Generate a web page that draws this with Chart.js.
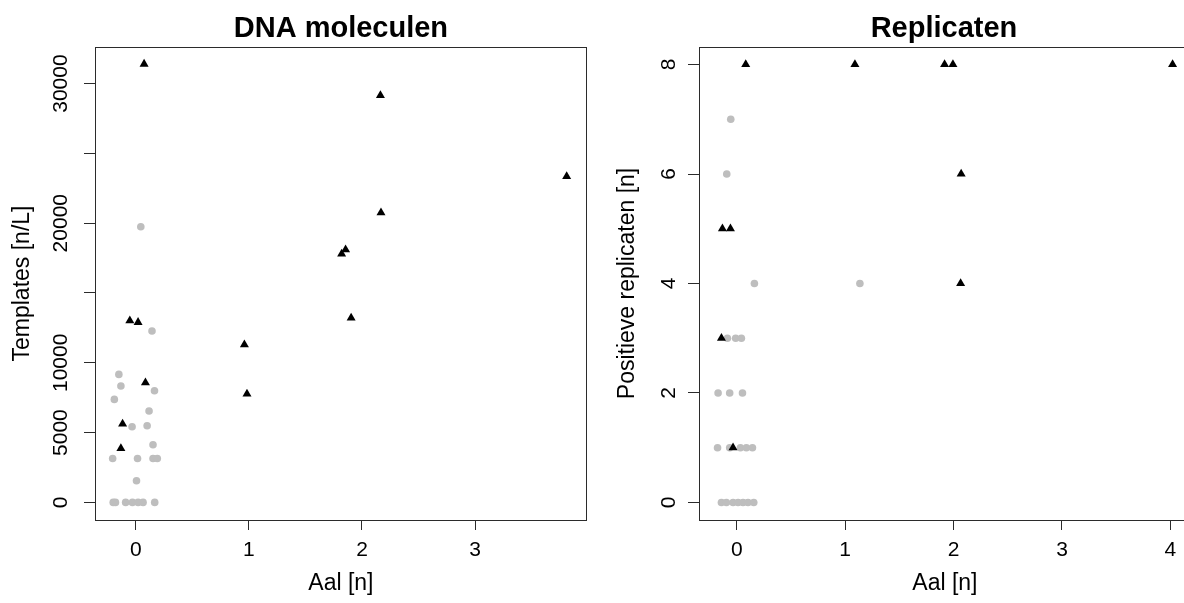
<!DOCTYPE html>
<html><head><meta charset="utf-8">
<script src="https://cdn.jsdelivr.net/npm/chart.js@4.4.1/dist/chart.umd.min.js"></script>
<style>
html,body{margin:0;padding:0;background:#fff;}
#wrap{position:relative;width:1184px;height:603px;overflow:hidden;}
canvas{position:absolute;top:0;}
</style></head><body>
<div id="wrap">
<canvas id="c1" width="592" height="603" style="left:0"></canvas>
<canvas id="c2" width="604" height="603" style="left:592px"></canvas>
</div>
<script>
// ---------- data ----------
const leftTitle = 'DNA moleculen';
const rightTitle = 'Replicaten';
const xTitle = 'Aal [n]';
const leftYTitle = 'Templates [n/L]';
const rightYTitle = 'Positieve replicaten [n]';

const leftXTicks = [0, 1, 2, 3];
const leftYTicks = [0, 5000, 10000, 15000, 20000, 25000, 30000];
const leftYLabels = ['0', '5000', '10000', '', '20000', '', '30000'];
const rightXTicks = [0, 1, 2, 3, 4];
const rightYTicks = [0, 2, 4, 6, 8];
const rightYLabels = ['0', '2', '4', '6', '8'];

const leftBlackX = [0.073, 2.163, 2.168, 3.81, 1.82, 1.855, 1.904, 0.96, 0.983, -0.053, 0.02, 0.085, -0.117, -0.132];
const leftBlackY = [31400, 29150, 20750, 23350, 17800, 18100, 13220, 11300, 7770, 13020, 12900, 8580, 5620, 3870];
const leftGreyX = [0.044, 0.143, -0.15, -0.132, 0.165, -0.19, 0.117, -0.033, 0.1, 0.152, -0.205, 0.015, 0.152, 0.19, 0.006, -0.2, -0.18, -0.09, -0.03, 0.02, 0.064, 0.167];
const leftGreyY = [19750, 12280, 9170, 8340, 8000, 7380, 6550, 5420, 5490, 4130, 3150, 3150, 3150, 3150, 1550, 0, 0, 0, 0, 0, 0, 0];

const rightBlackX = [0.083, 1.09, 1.917, 1.994, 4.02, 2.07, 2.065, -0.132, -0.058, -0.141, -0.034];
const rightBlackY = [8, 8, 8, 8, 8, 6, 4, 5, 5, 3, 1];
const rightGreyX = [-0.055, -0.092, 0.163, 1.136, -0.086, -0.01, 0.043, -0.172, -0.065, 0.053, -0.177, -0.065, 0.034, 0.089, 0.145, -0.141, -0.095, -0.034, 0.012, 0.058, 0.104, 0.157];
const rightGreyY = [7, 6, 4, 4, 3, 3, 3, 2, 2, 2, 1, 1, 1, 1, 1, 0, 0, 0, 0, 0, 0, 0];

// ---------- rendering ----------
const FONT = "'Liberation Sans', Arial, Helvetica, sans-serif";
const AXIS_COLOR = '#2b2b2b';

const rPlot = {
  id: 'rPlot',
  afterDraw(chart, args, o) {
    const {ctx, chartArea: a} = chart;
    ctx.save();
    ctx.strokeStyle = AXIS_COLOR;
    ctx.lineWidth = 1;
    ctx.strokeRect(Math.round(a.left) + 0.5, Math.round(a.top) + 0.5, Math.round(a.right - a.left) - 1, Math.round(a.bottom - a.top));
    ctx.fillStyle = '#000';
    ctx.font = 'bold ' + o.titleSize + 'px ' + FONT;
    ctx.textAlign = 'center';
    ctx.textBaseline = 'middle';
    ctx.fillText(o.title, o.titleX != null ? o.titleX : (a.left + a.right) / 2, o.titleY);
    const ys = chart.scales.y;
    ctx.font = o.tickSize + 'px ' + FONT;
    ys.ticks.forEach((t, i) => {
      const lab = o.yLabels[i];
      if (!lab) return;
      const py = ys.getPixelForValue(t.value);
      ctx.save();
      ctx.translate(o.yLabelX, py);
      ctx.rotate(-Math.PI / 2);
      ctx.fillText(lab, 0, 0);
      ctx.restore();
    });
    ctx.restore();
  }
};

function pts(xs, ys) { return xs.map((x, i) => ({x: x, y: ys[i]})); }

function makeChart(id, c) {
  return new Chart(document.getElementById(id), {
    type: 'scatter',
    data: {
      datasets: [
        {label: 'positief', data: pts(c.bx, c.by), pointStyle: 'triangle', pointRadius: 5.2,
         backgroundColor: '#000', borderColor: '#000', borderWidth: 0, order: 0},
        {label: 'negatief', data: pts(c.gx, c.gy), pointStyle: 'circle', pointRadius: 3.8,
         backgroundColor: '#BEBEBE', borderColor: '#BEBEBE', borderWidth: 0, order: 1}
      ]
    },
    options: {
      responsive: false, animation: false, devicePixelRatio: 1,
      layout: {padding: {top: 47, right: c.padRight, left: 0, bottom: 0}},
      plugins: {
        legend: {display: false}, tooltip: {enabled: false},
        rPlot: {title: c.title, titleX: c.titleX, titleY: 29, titleSize: 29, tickSize: 21, yLabelX: c.yLabelX, yLabels: c.yLabels}
      },
      scales: {
        x: {
          type: 'linear', position: 'bottom', min: c.xmin, max: c.xmax,
          afterFit: s => { s.height = 83; },
          afterBuildTicks: s => { s.ticks = c.xTicks.map(v => ({value: v})); },
          ticks: {callback: v => String(v), font: {family: FONT, size: 21}, color: '#000', padding: 8, maxRotation: 0, autoSkip: false},
          grid: {drawOnChartArea: false, drawTicks: true, tickLength: 10, color: AXIS_COLOR, tickColor: AXIS_COLOR, lineWidth: 1},
          border: {display: false},
          title: {display: true, text: xTitle, font: {family: FONT, size: 23}, color: '#000', padding: {top: 0, bottom: 6}}
        },
        y: {
          type: 'linear', position: 'left', min: c.ymin, max: c.ymax,
          afterFit: s => { s.width = c.yAxisWidth; },
          afterBuildTicks: s => { s.ticks = c.yTicks.map(v => ({value: v})); },
          ticks: {display: false},
          grid: {drawOnChartArea: false, drawTicks: true, tickLength: 11, color: AXIS_COLOR, tickColor: AXIS_COLOR, lineWidth: 1},
          border: {display: false},
          title: {display: true, text: c.yTitle, font: {family: FONT, size: 23}, color: '#000', padding: {top: c.yTitlePad, bottom: 0}}
        }
      }
    },
    plugins: [rPlot]
  });
}

makeChart('c1', {
  title: leftTitle, yTitle: leftYTitle, bx: leftBlackX, by: leftBlackY, gx: leftGreyX, gy: leftGreyY,
  xTicks: leftXTicks, yTicks: leftYTicks, yLabels: leftYLabels, xmin: -0.361, xmax: 3.988, ymin: -1260, ymax: 32620,
  yAxisWidth: 95, yLabelX: 61, yTitlePad: 9, padRight: 3
});
makeChart('c2', {
  title: rightTitle, yTitle: rightYTitle, bx: rightBlackX, by: rightBlackY, gx: rightGreyX, gy: rightGreyY,
  xTicks: rightXTicks, yTicks: rightYTicks, yLabels: rightYLabels, xmin: -0.348, xmax: 4.188, ymin: -0.32, ymax: 8.32,
  yAxisWidth: 107, yLabelX: 77, yTitlePad: 22, padRight: 4.6, titleX: 352
});
</script>
</body></html>
